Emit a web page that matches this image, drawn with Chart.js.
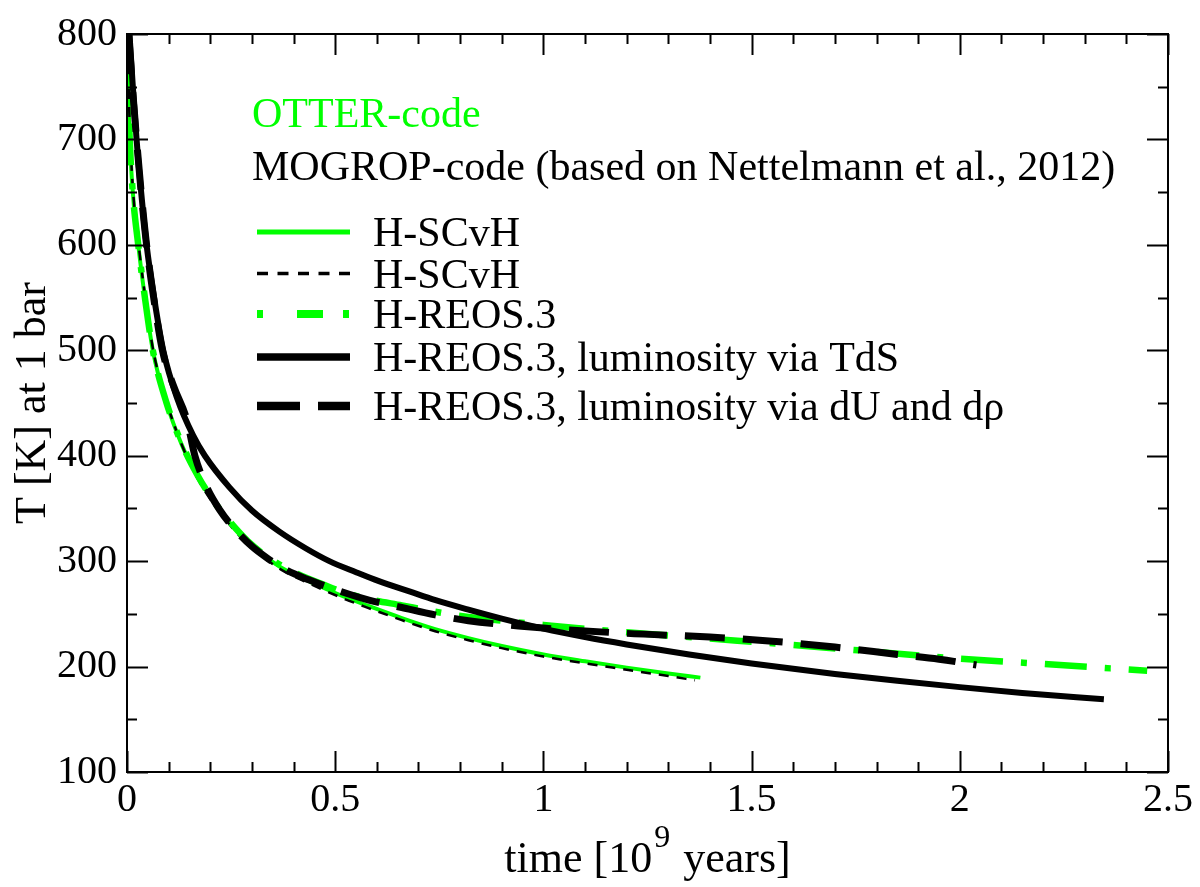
<!DOCTYPE html>
<html>
<head>
<meta charset="utf-8">
<script src="https://cdn.jsdelivr.net/npm/chart.js@4.4.1/dist/chart.umd.min.js"></script>
<style>
  html, body { margin: 0; padding: 0; background: #fff; }
  #wrap { width: 1200px; height: 887px; }
</style>
</head>
<body>
<div id="wrap"><canvas id="chart" width="1200" height="887"></canvas></div>
<script>
// time in 10^9 years, T in K at 1 bar

const otterScvhTime = [0.002, 0.005, 0.012, 0.027, 0.043, 0.062, 0.095, 0.132, 0.170, 0.210, 0.250, 0.290, 0.330, 0.370, 0.420, 0.470, 0.520, 0.580, 0.660, 0.740, 0.820, 0.900, 1.000, 1.100, 1.200, 1.300, 1.377];
const otterScvhTemp = [770, 720, 660, 600, 550, 500, 450, 410, 380, 355, 335, 318, 305, 294, 284, 275, 266.5, 257.5, 246, 235.5, 227, 219.5, 211.5, 205, 199, 193.5, 189.5];

const mogropScvhTime = [0.003, 0.006, 0.013, 0.028, 0.044, 0.063, 0.096, 0.133, 0.170, 0.210, 0.250, 0.290, 0.330, 0.370, 0.420, 0.470, 0.520, 0.580, 0.660, 0.740, 0.820, 0.900, 1.000, 1.100, 1.200, 1.300, 1.364];
const mogropScvhTemp = [765, 720, 660, 600, 550, 500, 450, 409, 378, 353, 333, 316, 303, 292, 282, 273, 264.5, 255.5, 244, 233.5, 225, 217.5, 209.5, 203, 197, 191, 187];

const otterReosTime = [0.0015, 0.005, 0.012, 0.027, 0.043, 0.062, 0.095, 0.132, 0.170, 0.210, 0.250, 0.290, 0.330, 0.370, 0.420, 0.470, 0.520, 0.580, 0.660, 0.740, 0.820, 0.900, 1.000, 1.200, 1.400, 1.600, 1.800, 2.000, 2.200, 2.450];
const otterReosTemp = [795, 720, 660, 600, 550, 500, 450, 411, 381, 356, 336, 319, 306, 296, 286, 278, 270.5, 264, 258, 252, 247, 243.5, 239.5, 232.5, 226.5, 220.5, 214, 207.5, 202.5, 196];

const mogropTdsTime = [0.006, 0.014, 0.023, 0.034, 0.047, 0.065, 0.087, 0.120, 0.159, 0.187, 0.246, 0.300, 0.366, 0.430, 0.486, 0.550, 0.605, 0.680, 0.741, 0.820, 0.900, 1.000, 1.100, 1.200, 1.350, 1.500, 1.700, 1.850, 2.000, 2.150, 2.346];
const mogropTdsTemp = [800, 750, 700, 650, 600, 550, 500, 455, 419, 400, 370, 348, 328, 312, 300, 289.5, 281, 271, 263, 254, 245.5, 236, 228, 221, 211.5, 203, 193, 186.5, 180.5, 175, 169];

const mogropDuTime = [0.004, 0.013, 0.023, 0.034, 0.047, 0.064, 0.085, 0.113, 0.143, 0.163, 0.187, 0.222, 0.262, 0.300, 0.340, 0.380, 0.438, 0.500, 0.581, 0.660, 0.740, 0.820, 0.940, 1.000, 1.200, 1.400, 1.550, 1.700, 1.850, 1.950, 2.040];
const mogropDuTemp = [800, 750, 700, 650, 600, 550, 500, 465, 435, 400, 374, 349, 329, 314, 302, 292, 282, 273, 263, 256, 249, 243.5, 238.5, 236.5, 231.5, 228, 224, 218.5, 211.5, 207, 201.5];

const xTicks = [0, 0.5, 1, 1.5, 2, 2.5];
const yTicks = [100, 200, 300, 400, 500, 600, 700, 800];

const legendLabels = ['H-SCvH', 'H-SCvH', 'H-REOS.3', 'H-REOS.3, luminosity via TdS', 'H-REOS.3, luminosity via dU and d\u03c1'];

const GREEN = '#00ff00';
const FONT = "'Liberation Serif', 'DejaVu Serif', serif";

const toPoints = (xs, ys) => xs.map((x, i) => ({ x: x, y: ys[i] }));

const datasets = [
  { data: toPoints(otterScvhTime, otterScvhTemp), borderColor: GREEN, borderWidth: 4, borderDash: [], order: 5 },
  { data: toPoints(mogropScvhTime, mogropScvhTemp), borderColor: '#000', borderWidth: 2.5, borderDash: [10, 8], order: 4 },
  { data: toPoints(otterReosTime, otterReosTemp), borderColor: GREEN, borderWidth: 6.5, borderDash: [42, 18, 6, 18], order: 3 },
  { data: toPoints(mogropTdsTime, mogropTdsTemp), borderColor: '#000', borderWidth: 6, borderDash: [], order: 2 },
  { data: toPoints(mogropDuTime, mogropDuTemp), borderColor: '#000', borderWidth: 7, borderDash: [40, 18], order: 1 }
];
datasets.forEach((d, i) => {
  d.label = legendLabels[i];
  d.showLine = true;
  d.pointRadius = 0;
  d.fill = false;
  d.cubicInterpolationMode = 'monotone';
  d.borderCapStyle = 'butt';
});

// frame, inward ticks, axis titles and the in-plot legend
const decorPlugin = {
  id: 'decor',
  afterDraw(chart) {
    const ctx = chart.ctx;
    const a = chart.chartArea;
    const xs = chart.scales.x, ys = chart.scales.y;
    ctx.save();
    ctx.strokeStyle = '#000';
    ctx.lineWidth = 2;
    ctx.setLineDash([]);
    ctx.strokeRect(a.left, a.top, a.right - a.left, a.bottom - a.top);

    ctx.beginPath();
    for (let i = 0; i <= 25; i++) {
      const v = i / 10;
      const px = Math.round(xs.getPixelForValue(v)) + 0.5;
      const len = (i % 5 === 0) ? 21 : 10;
      ctx.moveTo(px, a.bottom); ctx.lineTo(px, a.bottom - len);
      ctx.moveTo(px, a.top); ctx.lineTo(px, a.top + len);
    }
    for (let v = 100; v <= 800; v += 50) {
      const py = Math.round(ys.getPixelForValue(v)) + 0.5;
      const len = (v % 100 === 0) ? 21 : 10;
      ctx.moveTo(a.left, py); ctx.lineTo(a.left + len, py);
      ctx.moveTo(a.right, py); ctx.lineTo(a.right - len, py);
    }
    ctx.stroke();

    // x title with superscript
    ctx.fillStyle = '#000';
    ctx.textBaseline = 'alphabetic';
    ctx.textAlign = 'left';
    const big = '44px ' + FONT, small = '32px ' + FONT;
    ctx.font = big;
    const p1 = 'time [10', p3 = ' years]';
    const w1 = ctx.measureText(p1).width, w3 = ctx.measureText(p3).width;
    ctx.font = small;
    const w2 = ctx.measureText('9').width + 4;
    const total = w1 + w2 + w3;
    let tx = (a.left + a.right) / 2 - total / 2;
    ctx.font = big;
    ctx.fillText(p1, tx, 872);
    ctx.font = small;
    ctx.fillText('9', tx + w1 + 2, 847);
    ctx.font = big;
    ctx.fillText(p3, tx + w1 + w2, 872);

    // y title
    ctx.save();
    ctx.translate(45, (a.top + a.bottom) / 2);
    ctx.rotate(-Math.PI / 2);
    ctx.textAlign = 'center';
    ctx.font = big;
    ctx.fillText('T [K] at 1 bar', 0, 0);
    ctx.restore();

    // legend
    ctx.font = '42px ' + FONT;
    ctx.textAlign = 'left';
    ctx.fillStyle = GREEN;
    ctx.fillText('OTTER-code', 252, 127);
    ctx.fillStyle = '#000';
    ctx.fillText('MOGROP-code (based on Nettelmann et al., 2012)', 252, 180);
    const rows = [232, 273.5, 314, 357, 406];
    chart.data.datasets.forEach((d, i) => {
      ctx.beginPath();
      ctx.strokeStyle = d.borderColor;
      ctx.lineWidth = d.borderWidth + (i >= 2 ? 1.5 : 1);
      ctx.lineCap = 'butt';
      ctx.setLineDash(i === 1 ? [11, 9.5] : (i === 2 ? [6, 34, 26, 20] : (i === 4 ? [43, 18] : [])));
      ctx.moveTo(257, rows[i]);
      ctx.lineTo(350, rows[i]);
      ctx.stroke();
      ctx.setLineDash([]);
      ctx.fillStyle = '#000';
      ctx.fillText(d.label, 373, rows[i] + 14);
    });
    ctx.restore();
  }
};

new Chart(document.getElementById('chart'), {
  type: 'scatter',
  data: { datasets: datasets },
  options: {
    responsive: false,
    animation: false,
    devicePixelRatio: 1,
    layout: { padding: { top: 21, right: 32, left: 0, bottom: 0 } },
    plugins: { legend: { display: false }, tooltip: { enabled: false } },
    scales: {
      x: {
        type: 'linear',
        min: 0,
        max: 2.5,
        afterBuildTicks: (s) => { s.ticks = xTicks.map(v => ({ value: v })); },
        afterFit: (s) => { s.height = 115; },
        grid: { display: false, drawTicks: false },
        border: { display: false },
        ticks: {
          autoSkip: false,
          maxRotation: 0,
          padding: 4,
          color: '#000',
          font: { family: FONT, size: 40 },
          callback: (v) => String(v)
        }
      },
      y: {
        type: 'linear',
        min: 100,
        max: 800,
        afterBuildTicks: (s) => { s.ticks = yTicks.map(v => ({ value: v })); },
        afterFit: (s) => { s.width = 127; },
        grid: { display: false, drawTicks: false },
        border: { display: false },
        ticks: {
          autoSkip: false,
          padding: 10,
          color: '#000',
          font: { family: FONT, size: 40 },
          callback: (v) => String(v)
        }
      }
    }
  },
  plugins: [decorPlugin]
});
</script>
</body>
</html>
